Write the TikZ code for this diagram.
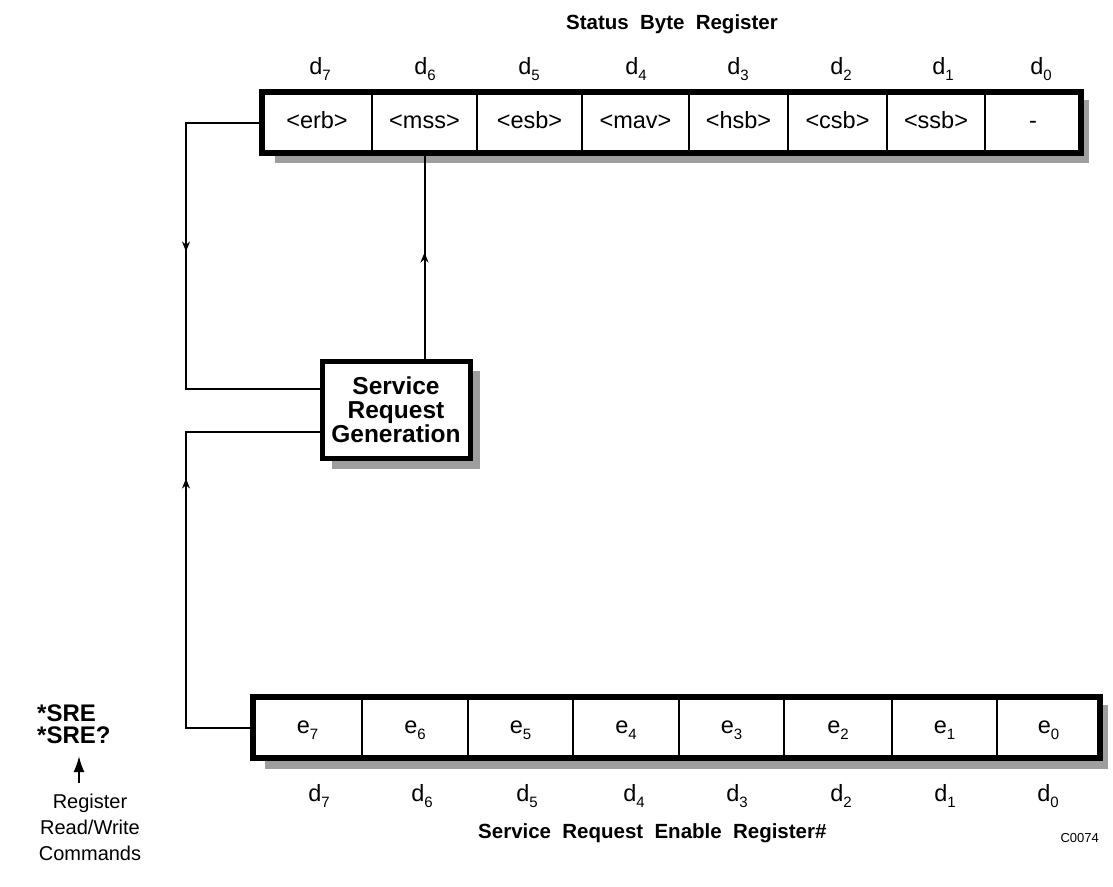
\documentclass[tikz,border=0pt]{standalone}
\usepackage{fontspec}
\setmainfont{Liberation Sans}
\usetikzlibrary{arrows.meta,decorations.markings,calc,backgrounds}
\newcommand\regfont{\fontsize{23.5}{28}\selectfont}
\newcommand\headfont{\bfseries\fontsize{20.5}{24}\selectfont}
\newcommand\mysub[1]{\raisebox{-6pt}{\fontsize{15}{15}\selectfont #1}}
\newcommand\wsp{\hspace{0.55em}}
\begin{document}
\begin{tikzpicture}[x=1pt,y=-1pt,
  regcell/.style={draw, line width=1.5pt, minimum height=61pt, inner sep=0pt, outer sep=0pt,
                  text height=18pt, text depth=6pt, anchor=north west, font=\regfont},
  frame/.style={draw, line width=5.5pt},
  shadowfill/.style={fill=black!38},
  wire/.style={line width=2pt},
  bitlabel/.style={font=\regfont, anchor=base, inner sep=0pt},
  title/.style={font=\headfont, inner sep=0pt},
  cmdfont/.style={font=\bfseries\fontsize{24}{24}\selectfont, inner sep=0pt},
  rwfont/.style={font=\fontsize{20}{20}\selectfont, anchor=base, inner sep=0pt},
  midarrow/.style={postaction={decorate}, decoration={markings, mark=at position #1 with {\arrow{Stealth[length=10pt,width=8pt]}}}}
]
\useasboundingbox (0,0) rectangle (1113,886);

% ---------- Status Byte Register ----------
\node[title, anchor=base] (sbrtitle) at (672,29) {Status\wsp Byte\wsp Register};
\node[regcell, minimum width=110pt] (erb) at (262,92) {<erb>};
\node[regcell, minimum width=105pt] (mss) at (erb.north east) {<mss>};
\node[regcell, minimum width=105pt] (esb) at (mss.north east) {<esb>};
\node[regcell, minimum width=107pt] (mav) at (esb.north east) {<mav>};
\node[regcell, minimum width=99pt] (hsb) at (mav.north east) {<hsb>};
\node[regcell, minimum width=99pt] (csb) at (hsb.north east) {<csb>};
\node[regcell, minimum width=98pt] (ssb) at (csb.north east) {<ssb>};
\node[regcell, minimum width=96pt] (nul) at (ssb.north east) {-};
\draw[frame] (erb.north west) rectangle (nul.south east);
\begin{scope}[on background layer]
  \fill[shadowfill] ($(erb.south west)+(13,0)$) rectangle ($(nul.south east)+(8,10)$);
  \fill[shadowfill] ($(nul.north east)+(0,8)$) rectangle ($(nul.south east)+(8,10)$);
\end{scope}

\node[bitlabel] (t7) at (320,74) {d\mysub{7}};
\node[bitlabel] (t6) at (425,74) {d\mysub{6}};
\node[bitlabel] (t5) at (529,74) {d\mysub{5}};
\node[bitlabel] (t4) at (636,74) {d\mysub{4}};
\node[bitlabel] (t3) at (738,74) {d\mysub{3}};
\node[bitlabel] (t2) at (841,74) {d\mysub{2}};
\node[bitlabel] (t1) at (943,74) {d\mysub{1}};
\node[bitlabel] (t0) at (1041,74) {d\mysub{0}};

% ---------- Service Request Generation ----------
\node[draw, line width=5pt, fill=white, minimum width=148pt, minimum height=97pt,
      inner sep=0pt, outer sep=0pt, align=center, font=\bfseries\fontsize{24.5}{24}\selectfont] (srg) at (396,410)
      {Service\\Request\\Generation};
\begin{scope}[on background layer]
  \fill[shadowfill] ($(srg.north east)+(0,9)$) rectangle ($(srg.south east)+(10,10)$);
  \fill[shadowfill] ($(srg.south west)+(10,0)$) rectangle ($(srg.south east)+(10,10)$);
\end{scope}

% ---------- Service Request Enable Register ----------
\node[regcell, minimum width=109pt] (e7) at (253,697) {e\mysub{7}};
\node[regcell, minimum width=106pt] (e6) at (e7.north east) {e\mysub{6}};
\node[regcell, minimum width=105pt] (e5) at (e6.north east) {e\mysub{5}};
\node[regcell, minimum width=106pt] (e4) at (e5.north east) {e\mysub{4}};
\node[regcell, minimum width=105pt] (e3) at (e4.north east) {e\mysub{3}};
\node[regcell, minimum width=108pt] (e2) at (e3.north east) {e\mysub{2}};
\node[regcell, minimum width=105pt] (e1) at (e2.north east) {e\mysub{1}};
\node[regcell, minimum width=103pt] (e0) at (e1.north east) {e\mysub{0}};
\draw[frame] (e7.north west) rectangle (e0.south east);
\begin{scope}[on background layer]
  \fill[shadowfill] ($(e7.south west)+(12,0)$) rectangle ($(e0.south east)+(8,11)$);
  \fill[shadowfill] ($(e0.north east)+(0,8)$) rectangle ($(e0.south east)+(8,11)$);
\end{scope}

\node[bitlabel] (b7) at (319,801) {d\mysub{7}};
\node[bitlabel] (b6) at (422,801) {d\mysub{6}};
\node[bitlabel] (b5) at (527,801) {d\mysub{5}};
\node[bitlabel] (b4) at (634,801) {d\mysub{4}};
\node[bitlabel] (b3) at (737,801) {d\mysub{3}};
\node[bitlabel] (b2) at (841,801) {d\mysub{2}};
\node[bitlabel] (b1) at (945,801) {d\mysub{1}};
\node[bitlabel] (b0) at (1048,801) {d\mysub{0}};

\node[title, anchor=base west] (srertitle) at (478,838) {Service\wsp Request\wsp Enable\wsp Register\#};
\node[font=\fontsize{13}{13}\selectfont, anchor=base east, inner sep=0pt] (code) at (1099,842) {C0074};

% ---------- left commands ----------
\node[cmdfont, anchor=base west] (sre1) at (37,721) {*SRE};
\node[cmdfont, anchor=base west] (sre2) at (37,743) {*SRE?};
\node[rwfont] (rw1) at (90,808) {Register};
\node[rwfont] (rw2) at (90,834) {Read/Write};
\node[rwfont] (rw3) at (90,860) {Commands};
\coordinate (cmdTail) at (79,783);
\coordinate (cmdTip) at (79,756);
\draw[wire, -{Latex[length=16pt,width=11pt]}] (cmdTail) -- (cmdTip);

% ---------- connectors ----------
\coordinate (lx) at (186,0);
\coordinate (srgA) at ($(srg.west)+(0,-21)$);
\coordinate (srgB) at ($(srg.west)+(0,22)$);
\draw[wire, midarrow=205pt] (erb.west) -- (erb.west -| lx) -- (lx |- srgA) -- (srgA);
\draw[wire, midarrow=316pt] (e7.west) -- (e7.west -| lx) -- (lx |- srgB) -- (srgB);
\draw[wire, midarrow=109pt] (mss.south |- srg.north) -- (mss.south);
\end{tikzpicture}
\end{document}
